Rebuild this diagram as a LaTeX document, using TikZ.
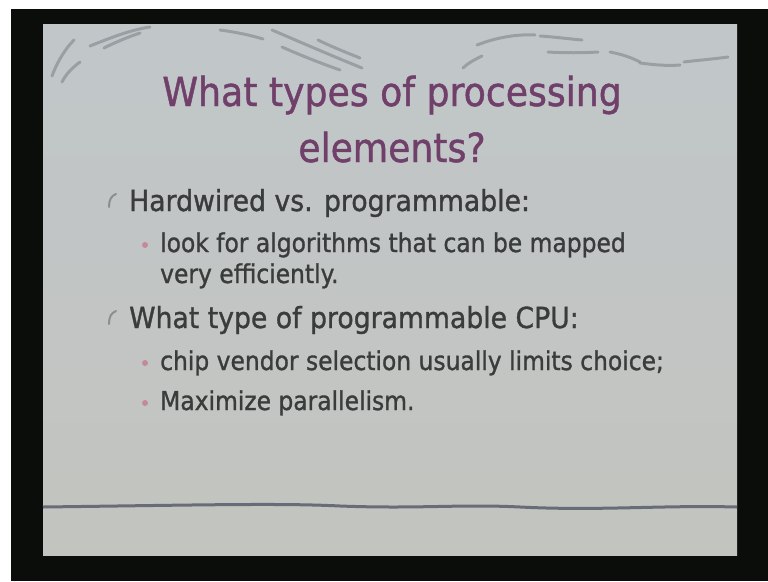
\documentclass[tikz,border=0pt]{standalone}
\usepackage{fontspec}
\setmainfont[FakeBold=1.2]{DejaVu Sans}
\usepackage{graphicx}
\definecolor{framecol}{HTML}{0B0D0B}
\definecolor{slidetop}{HTML}{C1C6C9}
\definecolor{slidebot}{HTML}{C2C4BF}
\definecolor{titlecol}{HTML}{70406B}
\definecolor{textcol}{HTML}{3A3B3B}
\definecolor{dotcol}{HTML}{C48A98}
\definecolor{markcol}{HTML}{8C8F8F}
\definecolor{rulecol}{HTML}{686B78}
\definecolor{swooshcol}{HTML}{8E9398}
\tikzset{
  titletext/.style={inner sep=0pt, anchor=base, text=titlecol, font=\fontsize{40}{48}\selectfont},
  lvlone/.style={inner sep=0pt, anchor=base west, text=textcol, font=\fontsize{29}{35}\selectfont},
  lvltwo/.style={inner sep=0pt, anchor=base west, text=textcol, font=\fontsize{26}{31}\selectfont},
  pinkdot/.style={circle, fill=dotcol, inner sep=0pt, minimum size=6pt},
  swoosh/.style={draw=swooshcol, line width=3pt, line cap=round, opacity=0.75},
  hookmark/.style={draw=markcol, line width=2pt, line cap=round}
}
\newcommand{\sqT}[1]{\scalebox{0.905}[1]{#1}}
\newcommand{\sqA}[1]{\scalebox{0.92}[1]{#1}}
\newcommand{\sqB}[1]{\scalebox{0.90}[1]{#1}}
\begin{document}
\begin{tikzpicture}[x=1pt,y=-1pt]
\useasboundingbox (0,0) rectangle (768,581);
\fill[white] (0,0) rectangle (768,581);
\fill[framecol] (11,9) rectangle (768,581);
\shade[top color=slidetop, bottom color=slidebot] (43,24) rectangle (737,555);
% decorative swooshes
\draw[swoosh] (52,76) .. controls (58,60) and (66,48) .. (74,40);
\draw[swoosh] (62,82) .. controls (66,74) and (72,68) .. (80,62);
\draw[swoosh] (90,46) .. controls (110,38) and (130,30) .. (150,27);
\draw[swoosh] (104,48) .. controls (116,42) and (128,37) .. (140,33);
\draw[swoosh] (220,30) .. controls (235,32) and (250,35) .. (263,39);
\draw[swoosh] (272,30) .. controls (300,42) and (330,55) .. (362,68);
\draw[swoosh] (282,47) .. controls (300,55) and (320,63) .. (340,70);
\draw[swoosh] (318,40) .. controls (330,46) and (345,52) .. (360,58);
\draw[swoosh] (463,68) .. controls (468,63) and (474,60) .. (482,56);
\draw[swoosh] (477,45) .. controls (495,38) and (515,34) .. (535,35);
\draw[swoosh] (540,36) .. controls (555,37) and (570,39) .. (582,40);
\draw[swoosh] (548,52) .. controls (565,53) and (582,53) .. (598,52);
\draw[swoosh] (610,52) .. controls (625,55) and (632,58) .. (640,62);
\draw[swoosh] (640,63) .. controls (655,65) and (668,66) .. (680,65);
\draw[swoosh] (684,62) .. controls (700,60) and (714,59) .. (728,57);
% title
\node[titletext] (t1) at (392,106) {\sqT{What types of processing}};
\node[titletext] (t2) at (392,162) {\sqT{elements?}};
% level one bullets
\draw[hookmark] (109,207) .. controls (109,200) and (111,196) .. (116,194);
\node[lvlone] (h1) at (129,211) {\sqA{Hardwired vs. programmable:}};
\node[pinkdot] (d1) at (145,245) {};
\node[lvltwo] (s1) at (160,252) {\sqB{look for algorithms that can be mapped}};
\node[lvltwo] (s1b) at (160,283) {\sqB{very efficiently.}};
\draw[hookmark] (109,324) .. controls (109,317) and (111,313) .. (116,311);
\node[lvlone] (h2) at (129,328) {\sqA{What type of programmable CPU:}};
\node[pinkdot] (d2) at (145,363) {};
\node[lvltwo] (s2) at (160,370) {\sqB{chip vendor selection usually limits choice;}};
\node[pinkdot] (d3) at (145,403) {};
\node[lvltwo] (s3) at (160,410) {\sqB{Maximize parallelism.}};
% bottom rule
\draw[draw=rulecol, line width=3pt] (43,507) .. controls (200,505) and (280,503) .. (340,506) .. controls (420,509) and (460,504) .. (520,507) .. controls (600,511) and (660,505) .. (737,507);
\end{tikzpicture}
\end{document}
